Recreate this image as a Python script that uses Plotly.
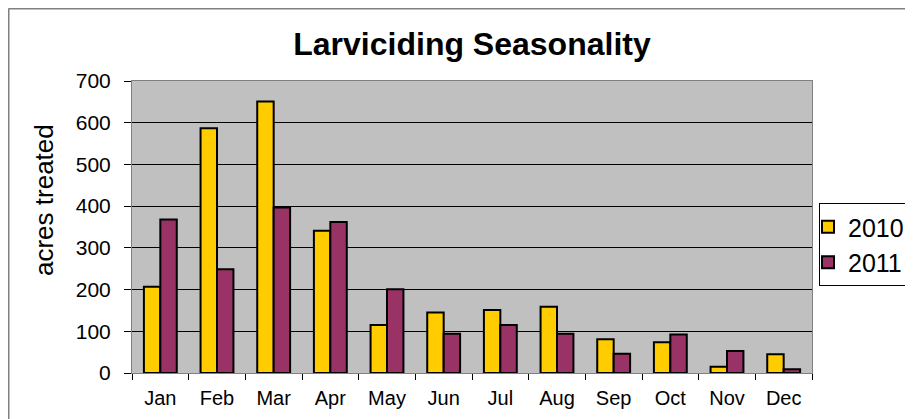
import plotly.graph_objects as go

months = ["Jan", "Feb", "Mar", "Apr", "May", "Jun", "Jul", "Aug", "Sep", "Oct", "Nov", "Dec"]
acres_2010 = [207, 587, 651, 341, 115, 145, 151, 159, 81, 74, 15, 45]
acres_2011 = [368, 249, 397, 362, 201, 94, 115, 94, 46, 92, 53, 9]
y_ticks = [0, 100, 200, 300, 400, 500, 600, 700]

# page has an 8px body margin, so work in figure pixels = page pixels - 8
OFF = 8
W, H = 913 - 2 * OFF, 419 - OFF
L, R, T, B = 132 - OFF, 812 - OFF, 81 - OFF, 373 - OFF


def px_x(px):
    return (px - OFF - L) / (R - L)


def px_y(py):
    return (B - (py - OFF)) / (B - T)


fig = go.Figure()
fig.add_trace(go.Bar(x=months, y=acres_2010, name="2010",
                     marker=dict(color="#FFCC00", line=dict(color="black", width=2))))
fig.add_trace(go.Bar(x=months, y=acres_2011, name="2011",
                     marker=dict(color="#993366", line=dict(color="black", width=2))))

fig.update_layout(
    width=W, height=H,
    margin=dict(l=L, r=W - R, t=T, b=H - B, autoexpand=False),
    paper_bgcolor="white",
    plot_bgcolor="#C0C0C0",
    font=dict(family="Liberation Sans, Arial, sans-serif", color="black", size=20),
    title=dict(text="<b>Larviciding Seasonality</b>", x=px_x(472), xref="paper", xanchor="center",
               y=1 - (44 - OFF) / H, yanchor="middle", font=dict(size=32)),
    barmode="group",
    bargap=0.42,
    bargroupgap=0,
    showlegend=True,
    legend=dict(x=px_x(819), xanchor="left", y=px_y(203), yanchor="top",
                bgcolor="white", bordercolor="black", borderwidth=1,
                font=dict(size=25), itemwidth=30, tracegroupgap=0, indentation=-12),
    xaxis=dict(showgrid=False, ticks="outside", tickson="boundaries", ticklen=6,
               tickcolor="black", showline=True, linecolor="#808080", linewidth=1,
               mirror=True, tickfont=dict(size=20), ticklabelstandoff=7),
    yaxis=dict(range=[0, 700], tickvals=y_ticks, showgrid=True, gridcolor="black", gridwidth=1,
               ticks="outside", ticklen=7, tickcolor="black", showline=True,
               linecolor="#808080", linewidth=1, mirror=True, zeroline=False,
               tickfont=dict(size=21), ticklabelstandoff=9),
    annotations=[
        dict(text="acres treated", textangle=-90, xref="paper", yref="paper",
             x=px_x(44), y=px_y(200), xanchor="center", yanchor="middle",
             showarrow=False, font=dict(size=26)),
    ],
    shapes=[
        dict(type="line", xref="paper", yref="paper", x0=px_x(8.5), x1=px_x(8.5), y0=px_y(440), y1=px_y(8.5),
             line=dict(color="#808080", width=2)),
        dict(type="line", xref="paper", yref="paper", x0=px_x(8.5), x1=px_x(940), y0=px_y(8.5), y1=px_y(8.5),
             line=dict(color="#808080", width=2)),
    ],
)

fig.write_html("out.html")
